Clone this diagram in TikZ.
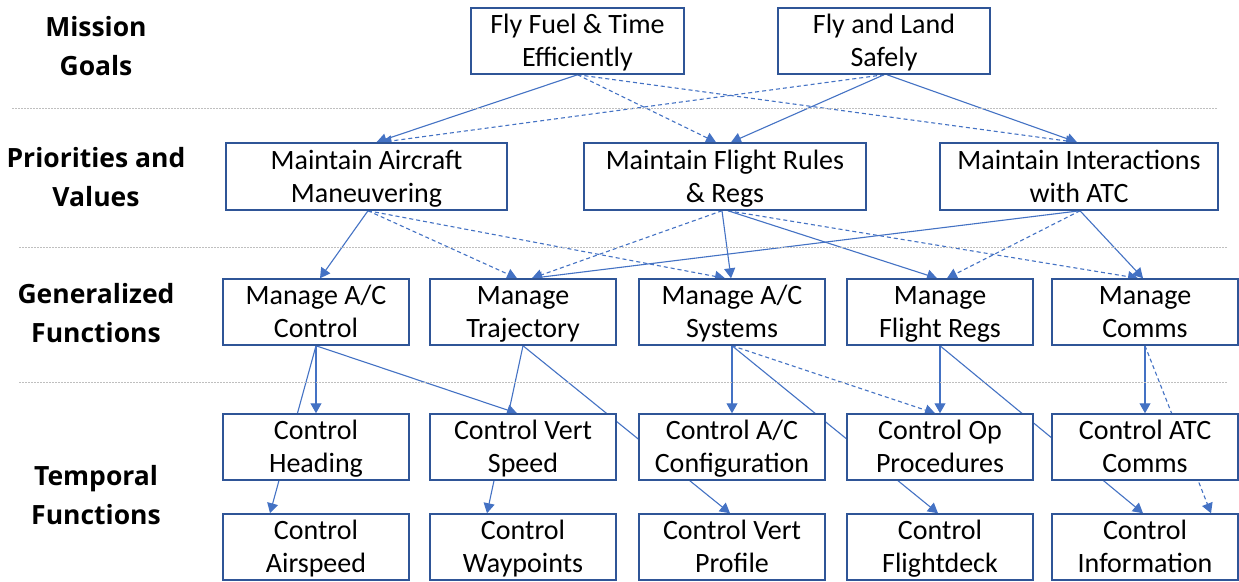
\documentclass[tikz,border=0pt]{standalone}
\usepackage{fontspec}
\setmainfont{Carlito}
\newfontfamily\tierfont{Open Sans}
\usetikzlibrary{arrows.meta}

\definecolor{boxblue}{HTML}{2F5597}
\definecolor{linkblue}{HTML}{4472C4}
\definecolor{sepgray}{HTML}{BFBFBF}

% struts that centre two-line texts on their cap heights
\newcommand\boxstrut{\rule[-6pt]{0pt}{30pt}}
\newcommand\tierstrut{\rule[-7.4pt]{0pt}{33.4pt}}
\newcommand\twoline[2]{\boxstrut #1\\\boxstrut #2}
\newcommand\tierlines[2]{\tierstrut #1\\\tierstrut #2}

\pgfdeclarelayer{paper}
\pgfdeclarelayer{links}
\pgfsetlayers{paper,links,main}

\begin{document}
\begin{tikzpicture}[x=1pt,y=-1pt,
  box/.style={draw=boxblue, line width=1.5pt, fill=white,
    minimum width=186pt, minimum height=66pt, inner sep=0pt,
    align=center, font=\fontsize{28}{33}\selectfont},
  tier/.style={align=center, inner sep=0pt,
    font=\tierfont\bfseries\fontsize{26.5}{39}\selectfont},
  conn/.style={draw=linkblue, line width=1.1pt,
    -{Triangle[length=10pt,width=11pt]}},
  dconn/.style={conn, dash pattern=on 4pt off 3pt},
  sep/.style={draw=sepgray, line width=1pt, dash pattern=on 1.5pt off 1.5pt}]

\begin{pgfonlayer}{paper}
\fill[white] (0,0) rectangle (1239,581);
\end{pgfonlayer}
\useasboundingbox (0,0) rectangle (1239,581);

% level names
\node[tier] (lvgoal) at (96,46.5)  {\tierlines{Mission}{Goals}};
\node[tier] (lvprio) at (96,177.5) {\tierlines{Priorities and}{Values}};
\node[tier] (lvgen)  at (96,314)   {\tierlines{Generalized}{Functions}};
\node[tier] (lvtemp) at (96,496)   {\tierlines{Temporal}{Functions}};

% level separators
\draw[sep] (12,108.5) -- (1218,108.5);
\draw[sep] (19,247.5) -- (1228,247.5);
\draw[sep] (19,382) -- (1228,382);

% mission goals
\node[box, minimum width=213pt] (fuel) at (577.5,41) {\twoline{Fly Fuel \& Time}{Efficiently}};
\node[box, minimum width=212pt] (safe) at (884,41)   {\twoline{Fly and Land}{Safely}};

% priorities and values
\node[box, minimum width=281pt, minimum height=67pt] (mac)   at (366.5,176.5) {\twoline{Maintain Aircraft}{Maneuvering}};
\node[box, minimum width=282pt, minimum height=67pt] (rules) at (725,176.5)   {\twoline{Maintain Flight Rules}{\& Regs}};
\node[box, minimum width=278pt, minimum height=67pt] (atc)   at (1079,176.5)  {\twoline{Maintain Interactions}{with ATC}};

% generalized functions
\node[box] (g1) at (316,312)  {\twoline{Manage A/C}{Control}};
\node[box] (g2) at (523,312)  {\twoline{Manage}{Trajectory}};
\node[box] (g3) at (732,312)  {\twoline{Manage A/C}{Systems}};
\node[box] (g4) at (940,312)  {\twoline{Manage}{Flight Regs}};
\node[box] (g5) at (1145,312) {\twoline{Manage}{Comms}};

% temporal functions
\node[box] (t1) at (316,447)  {\twoline{Control}{Heading}};
\node[box] (t2) at (523,447)  {\twoline{Control Vert}{Speed}};
\node[box] (t3) at (732,447)  {\twoline{Control A/C}{Configuration}};
\node[box] (t4) at (940,447)  {\twoline{Control Op}{Procedures}};
\node[box] (t5) at (1145,447) {\twoline{Control ATC}{Comms}};

\node[box] (b1) at (316,547)  {\twoline{Control}{Airspeed}};
\node[box] (b2) at (523,547)  {\twoline{Control}{Waypoints}};
\node[box] (b3) at (732,547)  {\twoline{Control Vert}{Profile}};
\node[box] (b4) at (940,547)  {\twoline{Control}{Flightdeck}};
\node[box] (b5) at (1145,547) {\twoline{Control}{Information}};

\begin{pgfonlayer}{links}
% goals to priorities
\draw[conn]  (fuel.south) -- ([xshift=10pt]mac.north);
\draw[dconn] (fuel.south) -- ([xshift=-9pt]rules.north);
\draw[dconn] (fuel.south) -- ([xshift=-3pt]atc.north);
\draw[dconn] (safe.south) -- ([xshift=15pt]mac.north);
\draw[conn]  (safe.south) -- ([xshift=6pt]rules.north);
\draw[conn]  ([xshift=3pt]safe.south) -- ([xshift=-2pt]atc.north);

% priorities to generalized functions
\draw[conn]  ([xshift=1.5pt]mac.south) -- ([xshift=4pt]g1.north);
\draw[dconn] ([xshift=1.5pt]mac.south) -- ([xshift=-6pt]g2.north);
\draw[dconn] ([xshift=1.5pt]mac.south) -- ([xshift=-7pt]g3.north);
\draw[dconn] ([xshift=-3pt]rules.south) -- ([xshift=9pt]g2.north);
\draw[conn]  ([xshift=-3pt]rules.south) -- ([xshift=-1pt]g3.north);
\draw[conn]  ([xshift=3pt]rules.south) -- ([xshift=-3pt]g4.north);
\draw[dconn] ([xshift=3pt]rules.south) -- ([xshift=-7pt]g5.north);
\draw[conn]  ([xshift=1pt]atc.south) -- ([xshift=9pt]g2.north);
\draw[dconn] ([xshift=1pt]atc.south) -- ([xshift=7pt]g4.north);
\draw[conn]  ([xshift=1pt]atc.south) -- ([xshift=-2pt]g5.north);

% generalized to temporal functions
\draw[conn]  (g1.south) -- (t1.north);
\draw[conn]  (g1.south) -- ([xshift=-46pt]b1.north);
\draw[conn]  (g1.south) -- ([xshift=-6pt]t2.north);
\draw[conn]  (g2.south) -- ([xshift=-36pt]b2.north);
\draw[conn]  (g2.south) -- ([xshift=-2pt]b3.north);
\draw[conn]  (g3.south) -- (t3.north);
\draw[dconn] (g3.south) -- ([xshift=-5pt]t4.north);
\draw[conn]  (g3.south) -- ([xshift=-2pt]b4.north);
\draw[conn]  (g4.south) -- (t4.north);
\draw[conn]  (g4.south) -- ([xshift=-2pt]b5.north);
\draw[conn]  (g5.south) -- (t5.north);
\draw[dconn] (g5.south) -- ([xshift=66pt]b5.north);
\end{pgfonlayer}
\end{tikzpicture}
\end{document}
